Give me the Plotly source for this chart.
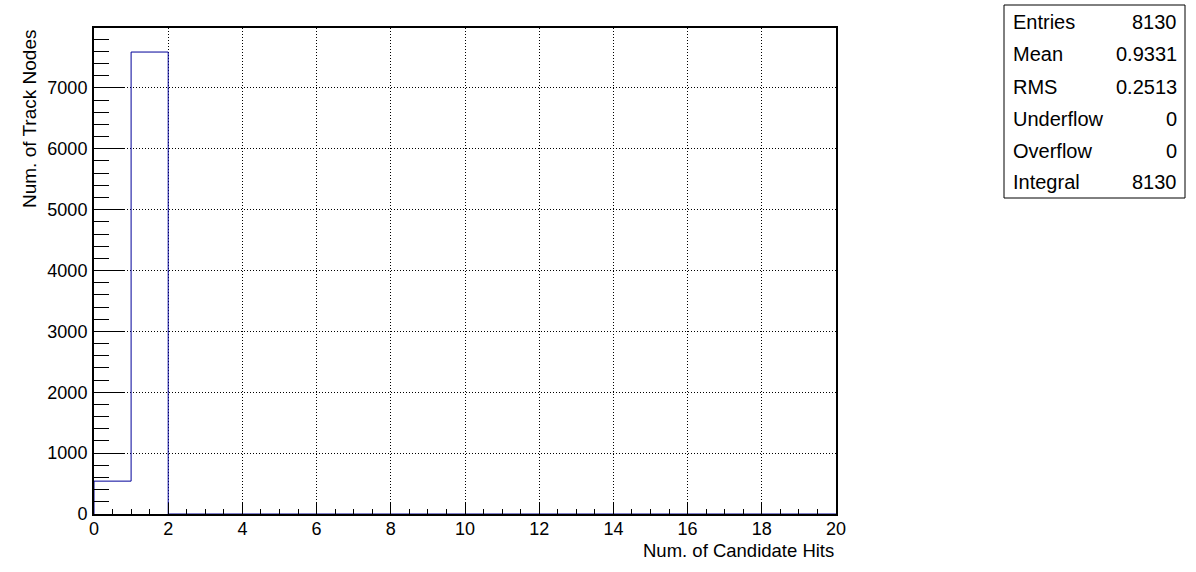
import plotly.graph_objects as go

# Data
bin_edges = list(range(0, 21))
counts = [540, 7590] + [0] * 18
stat_labels = ["Entries", "Mean", "RMS", "Underflow", "Overflow", "Integral"]
stat_values = ["8130", "0.9331", "0.2513", "0", "0", "8130"]

W, H = 1196, 572
L, R, T, B = 94, 836, 28, 514
pw, ph = R - L, B - T

def px(x):
    return (x - L) / pw

def py(y):
    return (B - y) / ph

step_x = [bin_edges[0]] + bin_edges
step_y = [0] + counts + [0]

fig = go.Figure()
fig.add_trace(go.Scatter(x=step_x, y=step_y, mode="lines", line_shape="hv",
                         line=dict(color="#000099", width=1), hoverinfo="skip",
                         showlegend=False))

font = "Liberation Sans, Arial, Helvetica, sans-serif"
fig.update_layout(
    width=W, height=H, margin=dict(l=L, r=W - R, t=T, b=H - B),
    paper_bgcolor="white", plot_bgcolor="white",
    font=dict(family=font, size=18, color="black"),
    xaxis=dict(range=[0, 20], dtick=2, tick0=0, ticks="inside", ticklen=11,
               tickcolor="black", tickwidth=1, showline=True, linecolor="black",
               linewidth=2, mirror=True, showgrid=True, gridcolor="black",
               griddash="1px,2px", gridwidth=1, zeroline=False,
               minor=dict(dtick=0.5, ticks="inside", ticklen=5, tickcolor="black", showgrid=False),
               tickfont=dict(size=18), ticklabelstandoff=-3),
    yaxis=dict(range=[0, 7985], dtick=1000, tick0=0, ticks="inside", ticklen=30,
               tickcolor="black", tickwidth=1, showline=True, linecolor="black",
               linewidth=2, mirror=True, showgrid=True, gridcolor="black",
               griddash="1px,2px", gridwidth=1, zeroline=False,
               minor=dict(dtick=200, ticks="inside", ticklen=15, tickcolor="black", showgrid=False),
               tickfont=dict(size=18), ticklabelstandoff=1),
)

# Axis titles
fig.add_annotation(xref="paper", yref="paper", x=px(29), y=1, xanchor="center", yanchor="top",
                   text="Num. of Track Nodes", textangle=-90, showarrow=False,
                   font=dict(size=19, family=font))
fig.add_annotation(xref="paper", yref="paper", x=1, y=py(550), xanchor="right", yanchor="middle",
                   text="Num. of Candidate Hits", showarrow=False, font=dict(size=18.5, family=font))

# Stats box
fig.add_shape(type="rect", xref="paper", yref="paper", x0=px(1004), x1=px(1185),
              y0=py(198), y1=py(5), line=dict(color="black", width=1), fillcolor="white")
rows_y = [22, 54, 87, 119, 151, 182]
for lab, val, yy in zip(stat_labels, stat_values, rows_y):
    fig.add_annotation(xref="paper", yref="paper", x=px(1013), y=py(yy), xanchor="left",
                       yanchor="middle", text=lab, showarrow=False, font=dict(size=20, family=font),
                       xshift=-2)
    fig.add_annotation(xref="paper", yref="paper", x=px(1177), y=py(yy), xanchor="right",
                       yanchor="middle", text=val, showarrow=False, font=dict(size=20, family=font),
                       xshift=2)

fig.write_html("out.html", config={"displayModeBar": False},
               post_script="document.body.style.margin='0';")
